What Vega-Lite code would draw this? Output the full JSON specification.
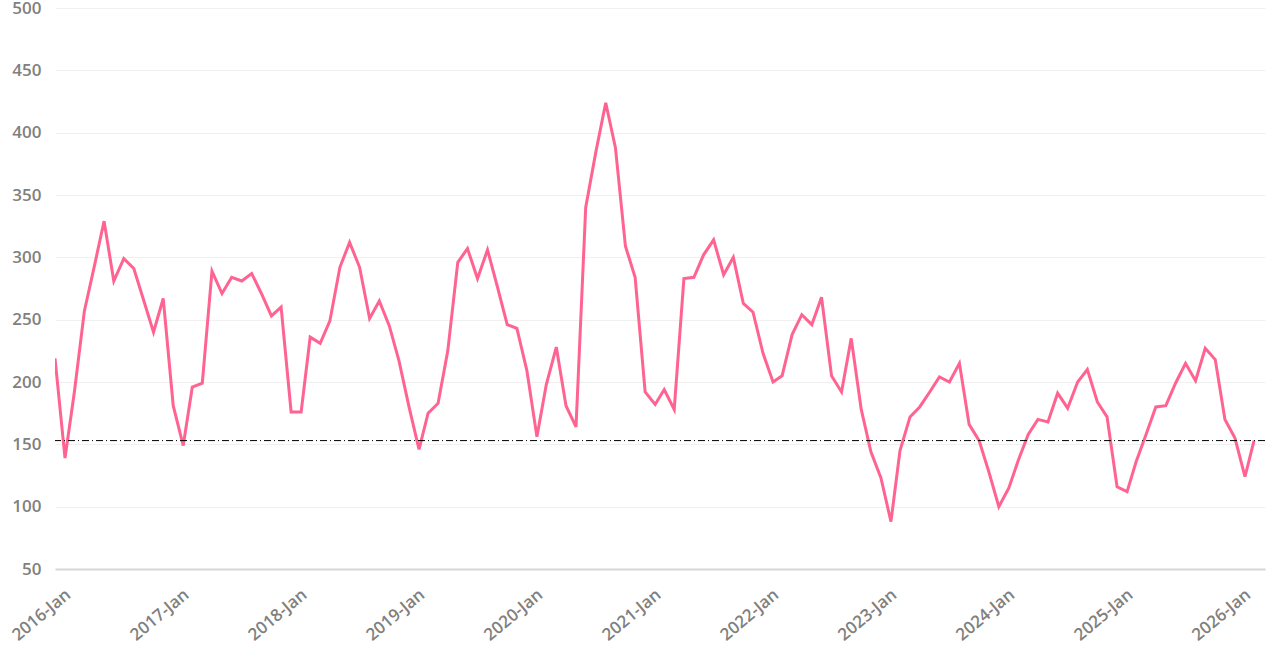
{
  "$schema": "https://vega.github.io/schema/vega-lite/v6.json",
  "width": 1210,
  "height": 561,
  "autosize": {"type": "none"},
  "padding": {"left": 55, "top": 8, "right": 15, "bottom": 84},
  "background": "white",
  "config": {
    "view": {"stroke": null},
    "font": "Open Sans"
  },
  "datasets": {
    "series": [
      {"date": "2016-01-01", "value": 219}, {"date": "2016-02-01", "value": 139}, {"date": "2016-03-01", "value": 192}, {"date": "2016-04-01", "value": 257},
      {"date": "2016-05-01", "value": 292}, {"date": "2016-06-01", "value": 329}, {"date": "2016-07-01", "value": 281}, {"date": "2016-08-01", "value": 299},
      {"date": "2016-09-01", "value": 291}, {"date": "2016-10-01", "value": 266}, {"date": "2016-11-01", "value": 240}, {"date": "2016-12-01", "value": 267},
      {"date": "2017-01-01", "value": 181}, {"date": "2017-02-01", "value": 149}, {"date": "2017-03-01", "value": 196}, {"date": "2017-04-01", "value": 199},
      {"date": "2017-05-01", "value": 289}, {"date": "2017-06-01", "value": 271}, {"date": "2017-07-01", "value": 284}, {"date": "2017-08-01", "value": 281},
      {"date": "2017-09-01", "value": 287}, {"date": "2017-10-01", "value": 271}, {"date": "2017-11-01", "value": 253}, {"date": "2017-12-01", "value": 260},
      {"date": "2018-01-01", "value": 176}, {"date": "2018-02-01", "value": 176}, {"date": "2018-03-01", "value": 236}, {"date": "2018-04-01", "value": 231},
      {"date": "2018-05-01", "value": 249}, {"date": "2018-06-01", "value": 292}, {"date": "2018-07-01", "value": 312}, {"date": "2018-08-01", "value": 292},
      {"date": "2018-09-01", "value": 251}, {"date": "2018-10-01", "value": 265}, {"date": "2018-11-01", "value": 245}, {"date": "2018-12-01", "value": 217},
      {"date": "2019-01-01", "value": 180}, {"date": "2019-02-01", "value": 146}, {"date": "2019-03-01", "value": 175}, {"date": "2019-04-01", "value": 183},
      {"date": "2019-05-01", "value": 225}, {"date": "2019-06-01", "value": 296}, {"date": "2019-07-01", "value": 307}, {"date": "2019-08-01", "value": 283},
      {"date": "2019-09-01", "value": 306}, {"date": "2019-10-01", "value": 277}, {"date": "2019-11-01", "value": 246}, {"date": "2019-12-01", "value": 243},
      {"date": "2020-01-01", "value": 209}, {"date": "2020-02-01", "value": 156}, {"date": "2020-03-01", "value": 198}, {"date": "2020-04-01", "value": 228},
      {"date": "2020-05-01", "value": 181}, {"date": "2020-06-01", "value": 164}, {"date": "2020-07-01", "value": 340}, {"date": "2020-08-01", "value": 384},
      {"date": "2020-09-01", "value": 424}, {"date": "2020-10-01", "value": 388}, {"date": "2020-11-01", "value": 309}, {"date": "2020-12-01", "value": 284},
      {"date": "2021-01-01", "value": 192}, {"date": "2021-02-01", "value": 182}, {"date": "2021-03-01", "value": 194}, {"date": "2021-04-01", "value": 178},
      {"date": "2021-05-01", "value": 283}, {"date": "2021-06-01", "value": 284}, {"date": "2021-07-01", "value": 302}, {"date": "2021-08-01", "value": 314},
      {"date": "2021-09-01", "value": 286}, {"date": "2021-10-01", "value": 300}, {"date": "2021-11-01", "value": 263}, {"date": "2021-12-01", "value": 256},
      {"date": "2022-01-01", "value": 223}, {"date": "2022-02-01", "value": 200}, {"date": "2022-03-01", "value": 205}, {"date": "2022-04-01", "value": 238},
      {"date": "2022-05-01", "value": 254}, {"date": "2022-06-01", "value": 246}, {"date": "2022-07-01", "value": 268}, {"date": "2022-08-01", "value": 205},
      {"date": "2022-09-01", "value": 192}, {"date": "2022-10-01", "value": 235}, {"date": "2022-11-01", "value": 178}, {"date": "2022-12-01", "value": 144},
      {"date": "2023-01-01", "value": 123}, {"date": "2023-02-01", "value": 88}, {"date": "2023-03-01", "value": 145}, {"date": "2023-04-01", "value": 172},
      {"date": "2023-05-01", "value": 180}, {"date": "2023-06-01", "value": 192}, {"date": "2023-07-01", "value": 204}, {"date": "2023-08-01", "value": 200},
      {"date": "2023-09-01", "value": 215}, {"date": "2023-10-01", "value": 166}, {"date": "2023-11-01", "value": 153}, {"date": "2023-12-01", "value": 128},
      {"date": "2024-01-01", "value": 100}, {"date": "2024-02-01", "value": 115}, {"date": "2024-03-01", "value": 137}, {"date": "2024-04-01", "value": 158},
      {"date": "2024-05-01", "value": 170}, {"date": "2024-06-01", "value": 168}, {"date": "2024-07-01", "value": 191}, {"date": "2024-08-01", "value": 179},
      {"date": "2024-09-01", "value": 200}, {"date": "2024-10-01", "value": 210}, {"date": "2024-11-01", "value": 184}, {"date": "2024-12-01", "value": 172},
      {"date": "2025-01-01", "value": 116}, {"date": "2025-02-01", "value": 112}, {"date": "2025-03-01", "value": 136}, {"date": "2025-04-01", "value": 158},
      {"date": "2025-05-01", "value": 180}, {"date": "2025-06-01", "value": 181}, {"date": "2025-07-01", "value": 199}, {"date": "2025-08-01", "value": 215},
      {"date": "2025-09-01", "value": 201}, {"date": "2025-10-01", "value": 227}, {"date": "2025-11-01", "value": 218}, {"date": "2025-12-01", "value": 170},
      {"date": "2026-01-01", "value": 155}, {"date": "2026-02-01", "value": 124}, {"date": "2026-03-01", "value": 153}
    ],
    "reference": [{"ref": 153}]
  },
  "layer": [
    {
      "data": {"name": "series"},
      "mark": {"type": "line", "color": "#ff6392", "strokeWidth": 3, "strokeJoin": "miter", "clip": true},
      "encoding": {
        "x": {
          "field": "date",
          "type": "temporal",
          "scale": {"type": "utc", "domain": [{"year": 2016, "month": 1, "date": 1, "utc": true}, {"year": 2026, "month": 4, "date": 4, "utc": true}]},
          "axis": {
            "title": null,
            "values": [
              {"year": 2016, "month": 1, "date": 1, "utc": true}, {"year": 2017, "month": 1, "date": 1, "utc": true},
              {"year": 2018, "month": 1, "date": 1, "utc": true}, {"year": 2019, "month": 1, "date": 1, "utc": true},
              {"year": 2020, "month": 1, "date": 1, "utc": true}, {"year": 2021, "month": 1, "date": 1, "utc": true},
              {"year": 2022, "month": 1, "date": 1, "utc": true}, {"year": 2023, "month": 1, "date": 1, "utc": true},
              {"year": 2024, "month": 1, "date": 1, "utc": true}, {"year": 2025, "month": 1, "date": 1, "utc": true},
              {"year": 2026, "month": 1, "date": 1, "utc": true}
            ],
            "labelExpr": "utcFormat(datum.value, '%Y-%b')",
            "labelAngle": -40,
            "labelAlign": "right",
            "labelBaseline": "top",
            "labelPadding": 17,
            "labelOffset": 8,
            "labelFont": "Open Sans",
            "labelFontSize": 17,
            "labelFontWeight": 600,
            "labelColor": "#808080",
            "labelOverlap": false,
            "labelBound": false,
            "labelFlush": false,
            "ticks": false,
            "grid": false,
            "domain": true,
            "domainColor": "#d6d6d6",
            "domainWidth": 2
          }
        },
        "y": {
          "field": "value",
          "type": "quantitative",
          "scale": {"domain": [50, 500], "nice": false, "zero": false},
          "axis": {
            "title": null,
            "values": [50, 100, 150, 200, 250, 300, 350, 400, 450, 500],
            "labelFont": "Open Sans",
            "labelFontSize": 17,
            "labelFontWeight": 600,
            "labelColor": "#808080",
            "labelPadding": 14,
            "labelBound": false,
            "labelFlush": false,
            "ticks": false,
            "domain": false,
            "grid": true,
            "gridColor": "#f0f0f0",
            "gridWidth": 1
          }
        }
      }
    },
    {
      "data": {"name": "reference"},
      "mark": {"type": "rule", "color": "#000000", "strokeWidth": 1, "strokeDash": [7, 3, 1, 3]},
      "encoding": {
        "y": {"field": "ref", "type": "quantitative"}
      }
    }
  ]
}
